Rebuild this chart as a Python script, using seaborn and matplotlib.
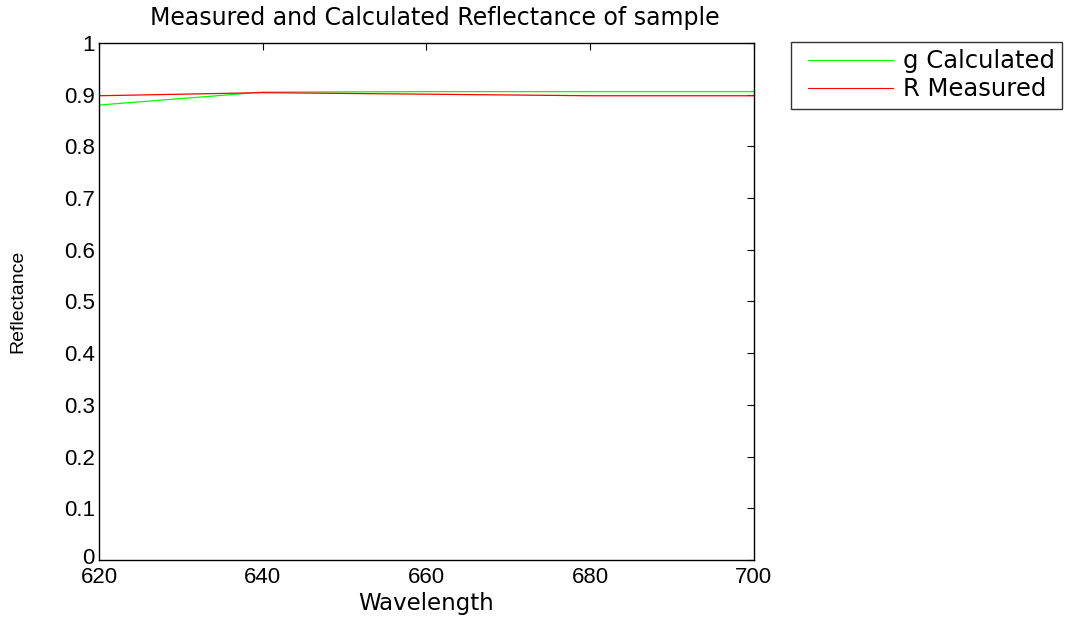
import matplotlib
matplotlib.use("Agg")
import matplotlib.pyplot as plt
from matplotlib.legend_handler import HandlerLine2D
from matplotlib.transforms import ScaledTranslation
import pandas as pd
import seaborn as sns

# Reflectance spectra (wavelength in nm)
wavelength = [620, 640, 660, 680, 700]
g_calculated = [0.880, 0.905, 0.906, 0.906, 0.906]
r_measured = [0.898, 0.904, 0.901, 0.898, 0.898]
series_names = ["g Calculated", "R Measured"]
series_colors = ["#00ff00", "#ff0000"]
y_ticks = [0, 0.1, 0.2, 0.3, 0.4, 0.5, 0.6, 0.7, 0.8, 0.9, 1]
x_ticks = [620, 640, 660, 680, 700]

df = pd.DataFrame({
    "Wavelength": wavelength * 2,
    "Reflectance": g_calculated + r_measured,
    "series": [series_names[0]] * len(wavelength) + [series_names[1]] * len(wavelength),
})

sns.set_theme(style="white")
plt.rcParams["font.family"] = ["Liberation Sans", "DejaVu Sans"]
plt.rcParams["text.color"] = "black"
plt.rcParams["axes.labelcolor"] = "black"
plt.rcParams["axes.titlecolor"] = "black"
wide = ["DejaVu Sans"]


class InsetLine(HandlerLine2D):
    """Legend sample line that starts a little inside its handle box."""
    def get_xdata(self, legend, xdescent, ydescent, width, height, fontsize):
        xs = [-xdescent + 0.105 * width, -xdescent + width]
        return xs, xs


fig = plt.figure(figsize=(10.7, 6.18), dpi=100)
ax = fig.add_axes([0.0925, 0.0939, 0.612, 0.8365])

sns.lineplot(data=df, x="Wavelength", y="Reflectance", hue="series",
             palette=dict(zip(series_names, series_colors)),
             linewidth=0.9, ax=ax, legend=False)

ax.set_xlim(620, 700)
ax.set_ylim(0, 1)
ax.set_xticks(x_ticks)
ax.set_yticks(y_ticks)
ax.set_yticklabels([f"{v:g}" for v in y_ticks])

for s in ax.spines.values():
    s.set_color("black")
    s.set_linewidth(1.0)
ax.tick_params(direction="in", length=5, width=0.8, colors="black",
               top=True, right=True, labelsize=16, pad=3)
ax.tick_params(axis="x", pad=5)

# lift the lowest y label so it clears the first x label
zero_label = ax.get_yticklabels()[0]
zero_label.set_transform(zero_label.get_transform()
                         + ScaledTranslation(0, 4 / 100, fig.dpi_scale_trans))

ax.set_xlabel("Wavelength", fontsize=16.5, family=wide, labelpad=3)
ax.set_ylabel("Reflectance", fontsize=14, labelpad=27)
ax.set_title("Measured and Calculated Reflectance of sample",
             fontsize=17, family=wide, pad=13, x=0.513)

handles = [plt.Line2D([], [], color=c, linewidth=0.8) for c in series_colors]
leg = ax.legend(handles, series_names, loc="upper left",
                bbox_to_anchor=(1.057, 1.002),
                prop={"family": wide, "size": 17.5},
                frameon=True, fancybox=False, edgecolor="black",
                handlelength=3.9, handletextpad=0.41, borderpad=0.3,
                labelspacing=0.17, borderaxespad=0,
                handler_map={plt.Line2D: InsetLine()})
leg.get_frame().set_linewidth(1.0)

fig.savefig("out.png", dpi=100, facecolor="white")
